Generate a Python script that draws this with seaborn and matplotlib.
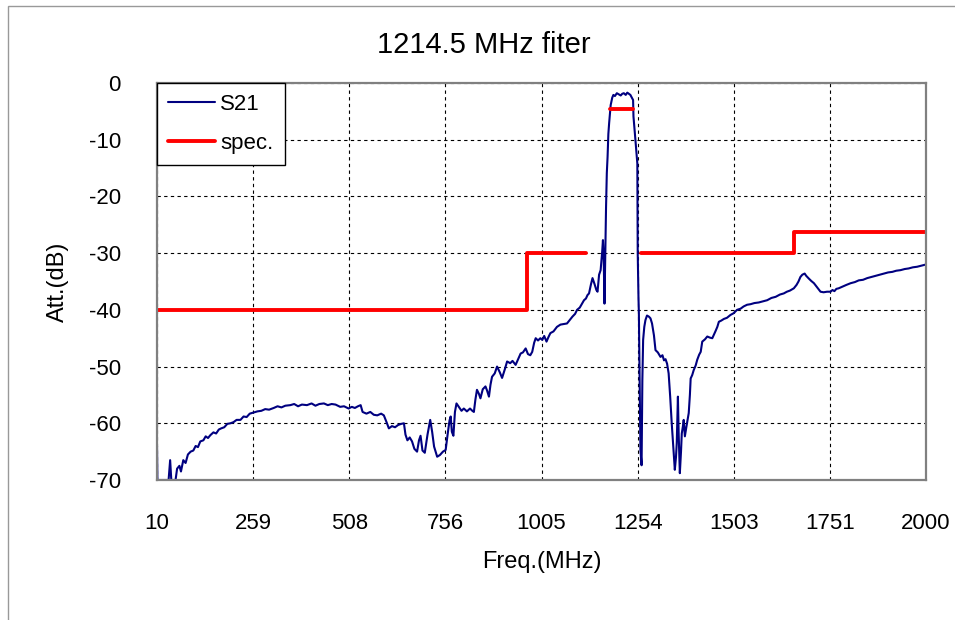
#!/usr/bin/env python
"""
Recreate the 1214.5 MHz filter S21 response vs. spec mask.
"""

import numpy as np
import pandas as pd
import matplotlib
matplotlib.use('Agg')
import matplotlib.pyplot as plt
import matplotlib.patches as patches
import seaborn as sns

# ---- data ----
freq_mhz = [
    10, 11, 40, 44, 47, 58, 62, 68, 72, 78, 84, 90, 97, 104, 110, 116, 122, 130,
    136, 142, 148, 156, 163, 170, 176, 184, 192, 200, 208, 216, 226, 234, 242,
    250, 260, 270, 280, 290, 300, 312, 322, 332, 342, 355, 365, 375, 385, 398,
    410, 420, 430, 442, 452, 462, 472, 484, 494, 506, 514, 522, 530, 537, 542,
    552, 562, 571, 580, 590, 597, 604, 610, 618, 626, 634, 642, 649, 653, 658,
    664, 670, 676, 683, 688, 692, 697, 703, 710, 717, 722, 727, 735, 742, 750,
    757, 762, 767, 770, 773, 777, 781, 785, 792, 798, 804, 812, 820, 826, 830,
    834, 838, 843, 847, 853, 860, 864, 869, 873, 877, 884, 890, 897, 903, 910,
    916, 924, 930, 938, 945, 951, 957, 964, 970, 976, 981, 986, 990, 996, 1002,
    1007, 1012, 1018, 1023, 1028, 1036, 1045, 1054, 1062, 1071, 1078, 1085,
    1092, 1097, 1104, 1110, 1115, 1120, 1124, 1128, 1133, 1137, 1142, 1147,
    1150, 1154, 1158, 1162, 1164, 1166, 1168, 1170, 1172, 1174, 1176, 1178,
    1180, 1184, 1188, 1191, 1195, 1200, 1205, 1210, 1214, 1218, 1223, 1227,
    1231, 1235, 1239, 1242, 1243, 1246, 1248, 1251, 1253, 1254, 1256, 1257,
    1259, 1261, 1264, 1265, 1266, 1268, 1271, 1274, 1278, 1283, 1287, 1291,
    1296, 1300, 1306, 1313, 1318, 1322, 1326, 1330, 1334, 1338, 1342, 1346,
    1350, 1353, 1355, 1358, 1360, 1363, 1366, 1368, 1371, 1373, 1376, 1380,
    1386, 1389, 1391, 1395, 1399, 1404, 1408, 1413, 1417, 1421, 1428, 1434,
    1441, 1447, 1451, 1455, 1460, 1464, 1470, 1477, 1485, 1494, 1502, 1511,
    1520, 1528, 1537, 1546, 1556, 1567, 1578, 1589, 1600, 1611, 1622, 1632,
    1640, 1648, 1658, 1665, 1670, 1675, 1680, 1686, 1690, 1697, 1703, 1710,
    1718, 1727, 1735, 1744, 1753, 1758, 1763, 1768, 1774, 1784, 1794, 1805,
    1816, 1826, 1837, 1848, 1859, 1870, 1880, 1891, 1902, 1913, 1923, 1934,
    1945, 1955, 1966, 1977, 1988, 2000,
]
s21_db = [
    -64, -70, -70, -66.5, -70, -70, -68, -67.5, -68.5, -66.5, -67, -65.5, -65,
    -64.8, -64, -64.2, -63.2, -63, -62.3, -62.6, -62.1, -61.6, -61.8, -61.1,
    -60.9, -60.7, -60.1, -60.0, -59.8, -59.4, -59.4, -58.8, -58.9, -58.3,
    -58.1, -57.9, -57.8, -57.5, -57.6, -57.3, -57.0, -57.2, -56.9, -56.8,
    -56.6, -57.0, -56.7, -56.8, -56.5, -56.9, -56.6, -56.5, -56.8, -56.6,
    -56.7, -57.1, -57.0, -57.4, -57.1, -57.3, -57.0, -56.8, -58.0, -58.3,
    -58.0, -58.5, -58.6, -58.3, -58.6, -59.8, -60.9, -60.5, -60.7, -60.3,
    -60.1, -60.0, -62.0, -63.0, -62.5, -63.2, -64.5, -65.0, -63.0, -62.2,
    -64.8, -65.2, -62.0, -59.4, -61.5, -64.1, -65.9, -65.6, -65.0, -64.7,
    -62.0, -59.5, -58.8, -61.5, -62.2, -58.0, -56.5, -57.2, -57.8, -57.4,
    -57.9, -57.4, -57.8, -58.0, -55.8, -54.1, -54.8, -55.6, -54.0, -53.5,
    -54.2, -55.3, -53.2, -51.8, -51.2, -50.0, -51.0, -52.0, -50.5, -49.1,
    -49.4, -49.0, -49.7, -48.6, -47.7, -47.5, -46.8, -47.8, -48.0, -47.4,
    -45.8, -45.0, -45.4, -45.0, -45.3, -44.6, -45.6, -44.8, -44.1, -43.8,
    -43.0, -42.6, -42.5, -42.4, -41.8, -41.2, -40.7, -40.0, -39.6, -38.9,
    -38.3, -38.0, -37.4, -37.1, -35.5, -34.4, -35.4, -36.5, -36.8, -33.8,
    -33.0, -29.8, -27.7, -31.0, -38.9, -30.0, -22.0, -15.9, -13.0, -9.0,
    -7.1, -3.9, -2.6, -2.1, -2.3, -1.8, -2.0, -2.2, -1.9, -1.8, -2.1, -1.7,
    -1.9, -2.1, -2.6, -3.0, -5.9, -8.5, -10.0, -12.5, -14.2, -30.0, -38.0,
    -40.6, -52.4, -64.7, -67.4, -60.0, -52.4, -45.3, -43.0, -41.8, -41.0,
    -41.2, -41.5, -42.4, -44.5, -47.1, -47.5, -48.3, -48.0, -48.9, -48.7,
    -49.5, -51.2, -55.3, -60.0, -64.1, -68.2, -66.0, -63.5, -55.3, -62.0,
    -68.8, -65.0, -61.8, -60.5, -59.4, -62.3, -60.6, -58.2, -55.0, -52.1,
    -51.5, -50.6, -49.8, -48.8, -47.9, -47.4, -45.6, -45.2, -44.7, -44.9,
    -45.0, -44.4, -43.8, -43.0, -42.1, -41.9, -41.6, -41.4, -40.9, -40.6,
    -40.0, -39.8, -39.4, -39.1, -39.0, -38.8, -38.7, -38.5, -38.3, -37.9,
    -37.7, -37.3, -37.1, -36.8, -36.6, -36.2, -35.6, -35.0, -34.2, -33.8,
    -33.6, -34.0, -34.5, -34.9, -35.3, -36.0, -36.8, -36.9, -36.8, -36.8,
    -36.5, -36.7, -36.3, -36.2, -35.9, -35.6, -35.3, -35.1, -34.8, -34.7,
    -34.4, -34.2, -34.0, -33.8, -33.6, -33.4, -33.3, -33.1, -33.0, -32.8,
    -32.7, -32.5, -32.4, -32.2, -32.0,
]

# spec mask, three separate pieces
spec_freq = [10, 968, 968, 1121, 1183, 1242, 1263, 1659, 1659, 2000]
spec_db = [-40, -40, -30, -30, -4.5, -4.5, -30, -30, -26.2, -26.2]
spec_piece = [0, 0, 0, 0, 1, 1, 2, 2, 2, 2]

x_ticks = [10, 259, 508, 756, 1005, 1254, 1503, 1751, 2000]
y_ticks = [0, -10, -20, -30, -40, -50, -60, -70]

sns.set_style('white')
plt.rcParams['font.family'] = ['Liberation Sans', 'DejaVu Sans']
plt.rcParams['axes.unicode_minus'] = False
plt.rcParams['text.color'] = 'black'
plt.rcParams['axes.labelcolor'] = 'black'
plt.rcParams['xtick.color'] = 'black'
plt.rcParams['ytick.color'] = 'black'

s21 = pd.DataFrame({'freq': freq_mhz, 'att': s21_db})
spec = pd.DataFrame({'freq': spec_freq, 'att': spec_db, 'piece': spec_piece})

fig = plt.figure(figsize=(9.55, 6.2), dpi=100)
ax = fig.add_axes([157 / 955, 1 - 480 / 620, (926 - 157) / 955, (480 - 83) / 620])

sns.lineplot(data=s21, x='freq', y='att', ax=ax, color='#000080',
             linewidth=1.5, sort=False, estimator=None, label='S21')
for i, (piece, grp) in enumerate(spec.groupby('piece')):
    sns.lineplot(data=grp, x='freq', y='att', ax=ax, color='#ff0000',
                 linewidth=2.8, sort=False, estimator=None,
                 label='spec.' if i == 0 else None)

ax.set_xlim(10, 2000)
ax.set_ylim(-70, 0)
ax.set_xticks(x_ticks)
ax.set_xticklabels([str(t) for t in x_ticks])
ax.set_yticks(y_ticks)
ax.tick_params(axis='both', length=0, labelsize=16)
ax.tick_params(axis='x', pad=24)
ax.tick_params(axis='y', pad=26)

ax.grid(True, color='black', linestyle=(0, (3, 3)), linewidth=0.8)
for sp in ax.spines.values():
    sp.set_color('#808080')
    sp.set_linewidth(1.6)

ax.set_xlabel('Freq.(MHz)', fontsize=17, labelpad=12)
ax.set_ylabel('Att.(dB)', fontsize=17, labelpad=14)

leg = ax.legend(loc='upper left', fontsize=16, borderaxespad=0, fancybox=False,
                framealpha=1, edgecolor='black', handlelength=2.1,
                labelspacing=0.8, handletextpad=0.25, borderpad=0.5)
leg.get_frame().set_linewidth(1.0)

fig.text(0.507, 1 - 45 / 620, '1214.5 MHz fiter', fontsize=21,
         ha='center', va='center')

# thin grey frame around the chart area
fig.add_artist(patches.Rectangle((8 / 955, -0.05), 1.2, 1 - 6 / 620 + 0.05,
                                 transform=fig.transFigure, fill=False,
                                 edgecolor='#999999', linewidth=1.0))

fig.savefig('out.png', dpi=100)
